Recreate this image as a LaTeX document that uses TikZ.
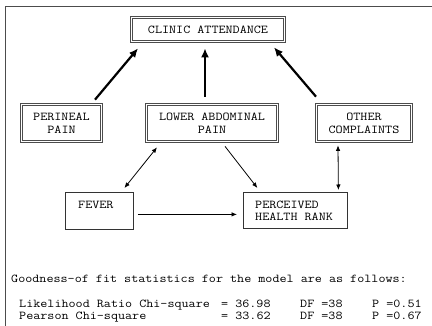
\documentclass[tikz,border=0pt]{standalone}
\usepackage{fontspec}
\setmonofont{Latin Modern Mono}[FakeStretch=1.143]
\usetikzlibrary{arrows.meta,calc}
\begin{document}
\begin{tikzpicture}[x=1pt,y=-1pt,
  txt/.style={font=\ttfamily\fontsize{12}{12.5}\selectfont, inner sep=0pt, text=black},
  dbox/.style={draw=black!70, double=white, double distance=1.6pt, line width=0.7pt,
    align=center, font=\ttfamily\fontsize{12}{13}\selectfont, inner sep=0pt, text=black},
  sbox/.style={draw=black!80, line width=0.8pt, inner sep=0pt},
  bigarrow/.style={line width=2.2pt, -{Latex[length=9pt,width=8pt]}},
  thinarrow/.style={line width=0.8pt, -{Latex[length=5.5pt,width=4.5pt]}},
  bothway/.style={line width=0.8pt, {Latex[length=5.5pt,width=4.5pt]}-{Latex[length=5.5pt,width=4.5pt]}}]
\useasboundingbox (0,0) rectangle (432,326);
\fill[white] (0,0) rectangle (432,326);
% frame
\draw[black!70, line width=0.8pt] (5,326) -- (5,6) -- (432,6);
% boxes
\node[dbox, minimum width=153pt, minimum height=24pt] (clinic) at (208,29.5) {CLINIC ATTENDANCE};
\node[dbox, minimum width=80pt, minimum height=37pt] (peri) at (61.5,123) {PERINEAL\\PAIN};
\node[dbox, minimum width=131pt, minimum height=37pt] (lower) at (212,123) {LOWER ABDOMINAL\\PAIN};
\node[dbox, minimum width=95pt, minimum height=37pt] (other) at (364,123) {OTHER\\COMPLAINTS};
\node[sbox, minimum width=68pt, minimum height=37pt, anchor=north west] (fever) at (65,192) {};
\node[txt, anchor=west] (fevertxt) at (78,205) {FEVER};
\node[sbox, minimum width=104pt, minimum height=36pt, anchor=north west] (perc) at (243,192) {};
\node[txt, anchor=west, align=left] (perctxt) at (255,211) {PERCEIVED\\HEALTH RANK};
% thick arrows
\draw[bigarrow] ($(peri.north)+(33.5,-4.5)$) -- ($(clinic.south)+(-70,6.5)$);
\draw[bigarrow] ($(lower.north)+(-7,-7.5)$) -- ($(clinic.south)+(-3,6.5)$);
\draw[bigarrow] ($(other.north)+(-48,-7.5)$) -- ($(clinic.south)+(66,5.5)$);
% thin arrows
\draw[bothway] ($(lower.south)+(-55,5.5)$) -- ($(fever.north)+(25,-4)$);
\draw[thinarrow] ($(lower.south)+(13,4.5)$) -- ($(perc.north)+(-38,-4)$);
\draw[bothway] ($(other.south)+(-26,3.5)$) -- ($(perc.north)+(43,-2)$);
\draw[thinarrow] ($(fever.east)+(4,3.5)$) -- ($(perc.west)+(-6,4)$);
% statistics text
\node[txt, anchor=base west] (gof) at (11,283) {Goodness-of fit statistics for the model are as follows:};
\node[txt, anchor=base west] (lr1) at (19,308) {Likelihood Ratio Chi-square};
\node[txt, anchor=base west] (lr2) at (221,308) {= 36.98};
\node[txt, anchor=base west] (lr3) at (300,308) {DF =38};
\node[txt, anchor=base west] (lr4) at (372,308) {P =0.51};
\node[txt, anchor=base west] (pc1) at (19,320) {Pearson Chi-square};
\node[txt, anchor=base west] (pc2) at (221,320) {= 33.62};
\node[txt, anchor=base west] (pc3) at (300,320) {DF =38};
\node[txt, anchor=base west] (pc4) at (372,320) {P =0.67};
\end{tikzpicture}
\end{document}
